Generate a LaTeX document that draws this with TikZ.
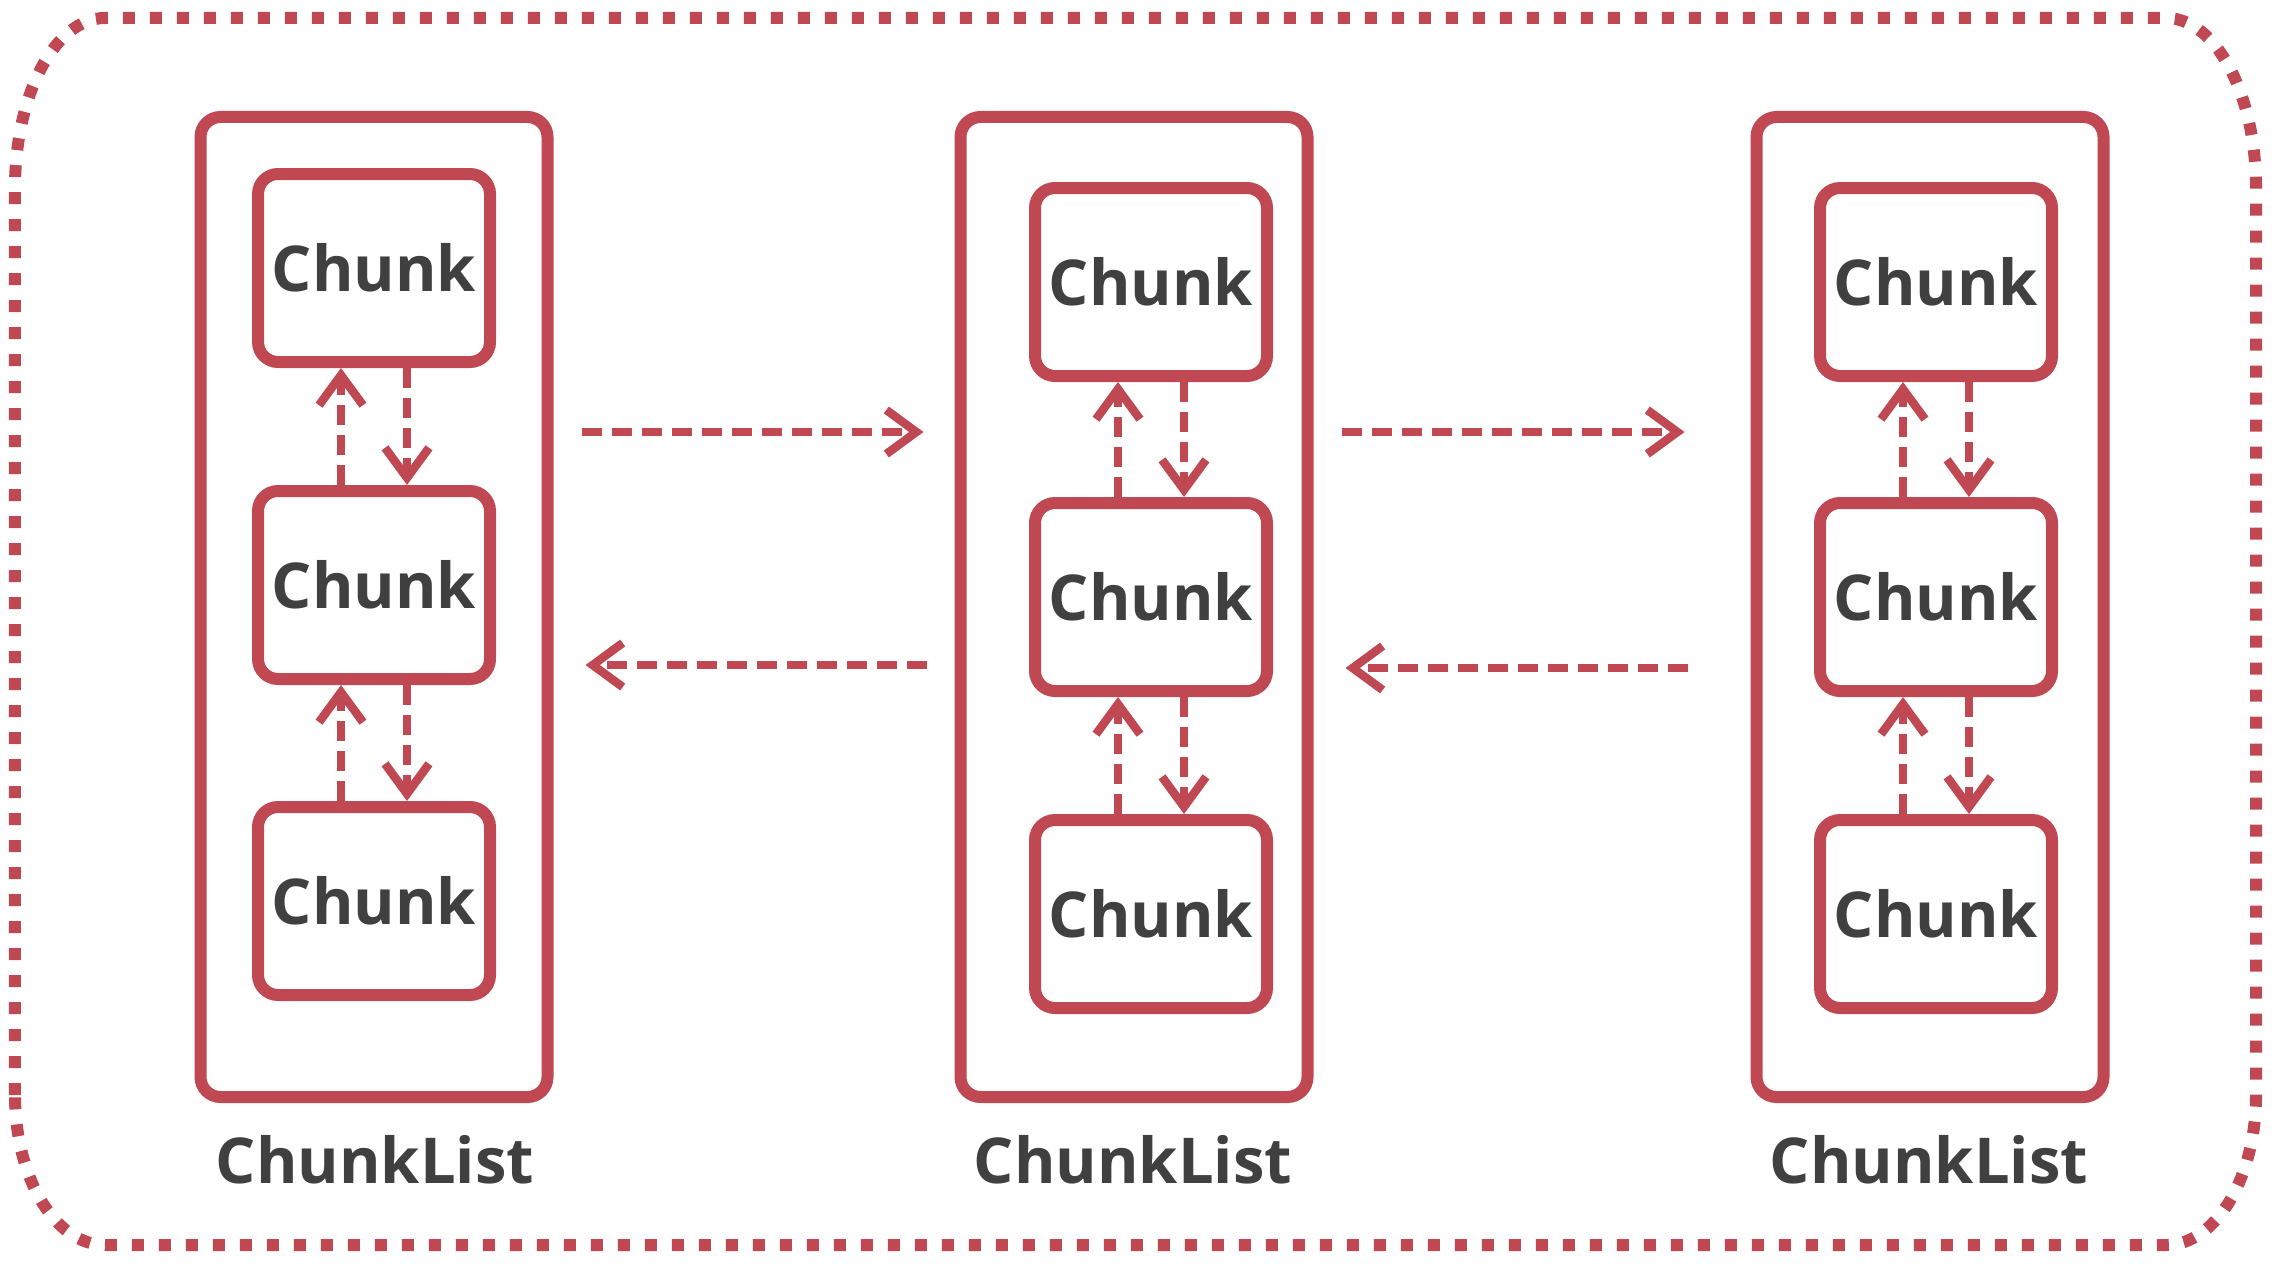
\documentclass[tikz,border=0pt]{standalone}
\usepackage{fontspec}
\setmainfont{Open Sans}
\usetikzlibrary{arrows.meta}

\definecolor{linkred}{RGB}{192,72,82}
\definecolor{textgray}{RGB}{64,64,64}

\tikzset{
  frame/.style={draw=linkred, line width=0.12cm, dash pattern=on 0.12cm off 0.15cm},
  listbox/.style={draw=linkred, line width=0.12cm, rounded corners=0.2cm,
    minimum width=3.47cm, minimum height=9.8cm},
  chunkbox/.style={draw=linkred, line width=0.12cm, rounded corners=0.2cm,
    minimum width=2.32cm, minimum height=1.88cm, inner sep=0pt,
    text=textgray, font=\bfseries\fontsize{18}{20}\selectfont},
  listlabel/.style={text=textgray, inner sep=0pt, font=\bfseries\fontsize{18}{20}\selectfont},
  link/.style={draw=linkred, line width=0.085cm, dash pattern=on 0.2cm off 0.1cm,
    -{Straight Barb[length=0.3cm,width=0.44cm]}},
}

\begin{document}
\begin{tikzpicture}
	\useasboundingbox (0,0) rectangle (22.78,12.66);

	% outer dotted frame
	\draw[frame] (0.15,1.71) -- (0.15,10.78)
		arc[start angle=180, end angle=90, x radius=0.9, y radius=1.7] -- (21.66,12.48)
		arc[start angle=90, end angle=0, x radius=0.9, y radius=1.7] -- (22.56,1.71)
		arc[start angle=0, end angle=-90, x radius=0.9, y radius=1.5] -- (1.05,0.21)
		arc[start angle=270, end angle=180, x radius=0.9, y radius=1.5] -- cycle;

	% chunk lists
	\node[listbox] (l1) at (3.74,6.59)  {};
	\node[listbox] (l2) at (11.34,6.59) {};
	\node[listbox] (l3) at (19.30,6.59) {};

	\node[listlabel, anchor=base] (n1) at (3.75,0.83)  {ChunkList};
	\node[listlabel, anchor=base] (n2) at (11.33,0.83) {ChunkList};
	\node[listlabel, anchor=base] (n3) at (19.29,0.83) {ChunkList};

	% chunks
	\node[chunkbox] (c11) at (3.74,9.98) {Chunk};
	\node[chunkbox] (c12) at (3.74,6.81) {Chunk};
	\node[chunkbox] (c13) at (3.74,3.65) {Chunk};

	\node[chunkbox] (c21) at (11.51,9.84) {Chunk};
	\node[chunkbox] (c22) at (11.51,6.69) {Chunk};
	\node[chunkbox] (c23) at (11.51,3.52) {Chunk};

	\node[chunkbox] (c31) at (19.36,9.84) {Chunk};
	\node[chunkbox] (c32) at (19.36,6.69) {Chunk};
	\node[chunkbox] (c33) at (19.36,3.52) {Chunk};

	% links between chunks
	\foreach \c in {1,2,3} {
		\foreach \a/\b in {1/2,2/3} {
			\draw[link] ([xshift=-0.33cm]c\c\b.north) -- ([xshift=-0.33cm]c\c\a.south);
			\draw[link] ([xshift=0.33cm]c\c\a.south) -- ([xshift=0.33cm]c\c\b.north);
		}
	}

	% links between lists
	\draw[link] ([xshift=0.28cm,yshift=1.75cm]l1.east)  -- ([xshift=-0.31cm,yshift=1.75cm]l2.west);
	\draw[link] ([xshift=-0.28cm,yshift=-0.58cm]l2.west) -- ([xshift=0.32cm,yshift=-0.58cm]l1.east);
	\draw[link] ([xshift=0.28cm,yshift=1.75cm]l2.east)  -- ([xshift=-0.66cm,yshift=1.75cm]l3.west);
	\draw[link] ([xshift=-0.63cm,yshift=-0.61cm]l3.west) -- ([xshift=0.32cm,yshift=-0.61cm]l2.east);
\end{tikzpicture}
\end{document}
